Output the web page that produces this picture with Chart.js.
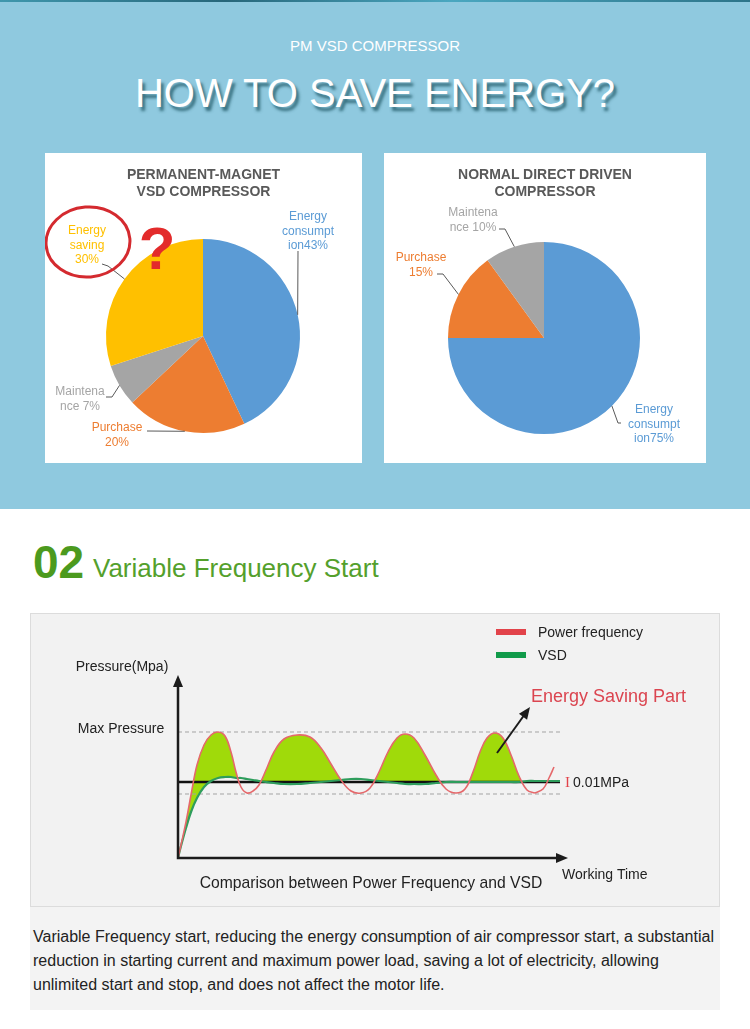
<!DOCTYPE html>
<html>
<head>
<meta charset="utf-8">
<title>PM VSD Compressor</title>
<script src="https://cdn.jsdelivr.net/npm/chart.js@4.4.1/dist/chart.umd.min.js"></script>
<style>
  html, body { margin: 0; padding: 0; }
  body { width: 750px; height: 1029px; position: relative; overflow: hidden; background: #fff;
         font-family: "Liberation Sans", Arial, sans-serif; }
  .band { position: absolute; left: 0; top: 0; width: 750px; height: 509px; background: #8fc9df; }
  .stripe { position: absolute; left: 0; top: 0; width: 750px; height: 2px;
            background: linear-gradient(90deg, #3f97ad, #27667a 30%, #4aa7c0 60%, #2d7489); }
  .kicker { position: absolute; left: 0; top: 38px; width: 750px; text-align: center;
            color: #fff; font-size: 15px; line-height: 15px; }
  .headline { position: absolute; left: 0; top: 73px; width: 750px; text-align: center;
              color: #fff; font-size: 40px; line-height: 40px; text-shadow: 3px 4px 3px rgba(40, 96, 110, 0.85); }
  .card { position: absolute; top: 153px; height: 310px; background: #fff; }
  .card h3 { position: absolute; left: 0; right: 0; top: 13px; margin: 0; text-align: center;
             font-size: 14px; line-height: 17px; font-weight: bold; color: #595959; z-index: 2; }
  .card .wrap { position: absolute; left: 0; top: 0; width: 100%; height: 100%; }
  .num { position: absolute; left: 33px; top: 539px; font-size: 46px; line-height: 46px;
         font-weight: bold; color: #4c9a1e; }
  .sub { position: absolute; left: 93px; top: 555px; font-size: 26px; line-height: 26px; color: #54a02c; }
  .chartbox { position: absolute; left: 30px; top: 613px; width: 690px; height: 294px;
              background: #f2f2f2; box-shadow: inset 0 0 0 1px #dcdcdc; }
  .chartbox .wrap { position: absolute; left: 0; top: 0; width: 690px; height: 294px; }
  .note { position: absolute; left: 30px; top: 907px; width: 690px; height: 103px; background: #f3f3f3; }
  .note p { margin: 0; padding: 18px 0 0 3px; font-size: 16px; line-height: 24px; color: #222; white-space: nowrap; }
</style>
</head>
<body>
<div class="band"></div>
<div class="stripe"></div>
<div class="kicker">PM VSD COMPRESSOR</div>
<div class="headline">HOW TO SAVE ENERGY?</div>

<div class="card" style="left:45px;width:317px;">
  <h3>PERMANENT-MAGNET<br>VSD COMPRESSOR</h3>
  <div class="wrap"><canvas id="pmPie"></canvas></div>
</div>
<div class="card" style="left:384px;width:322px;">
  <h3>NORMAL DIRECT DRIVEN<br>COMPRESSOR</h3>
  <div class="wrap"><canvas id="ddPie"></canvas></div>
</div>

<div class="num">02</div>
<div class="sub">Variable Frequency Start</div>

<div class="chartbox"><div class="wrap"><canvas id="startChart"></canvas></div></div>

<div class="note"><p>Variable Frequency start, reducing the energy consumption of air compressor start, a substantial<br>reduction in starting current and maximum power load, saving a lot of electricity, allowing<br>unlimited start and stop, and does not affect the motor life.</p></div>

<script>
// --- pie data ---
const pmLabels = ['Energy consumption', 'Purchase', 'Maintenance', 'Energy saving'];
const pmShares = [43, 20, 7, 30];
const ddLabels = ['Energy consumption', 'Purchase', 'Maintenance'];
const ddShares = [75, 15, 10];

// --- start curve data (time units along x, pressure units along y) ---
const times = [0, 3, 8, 13, 19, 26, 33, 40, 47, 53, 58, 63, 69, 75, 81, 88, 96, 106, 119, 132,
  143, 153, 163, 173, 183, 192, 201, 210, 219, 227, 236, 247, 258, 268, 278, 287, 295, 302, 309,
  317, 325, 333, 341, 349, 357, 365, 371, 376, 382];
const powerFreq = [0, 13, 36, 63, 93, 113, 123, 126, 122, 106, 86, 71, 65, 67, 73, 88, 106, 119, 123, 121,
  110, 94, 78, 67, 65, 70, 86, 106, 120, 124, 120, 103, 83, 69, 65, 69, 86, 106, 120,
  125, 120, 103, 82, 68, 65, 69, 80, 91];
const vsd = [0, 12, 30, 46, 60, 71, 77, 80, 81, 81, 80, 80, 79, 78, 77, 76, 75, 74, 74, 75,
  76, 77, 78, 79, 79, 78, 77, 76, 75, 74, 74, 74, 75, 76, 76, 76, 76, 76, 76,
  76, 76, 76, 76, 77, 77, 77, 77, 77, 77];
const tailStart = 44; // last trough: the red curve is not filled after it
const maxPressure = 126;
const setPressure = 76;
const lowPressure = 64;
const refSpan = [0, 382];

const blue = '#5b9bd5', orange = '#ed7d31', grey = '#a5a5a5', yellow = '#ffc000';
const font = '"Liberation Sans", Arial, sans-serif';

// labels with leader lines; the last leader point is the slice edge
const pieNotes = {
  id: 'pieNotes',
  afterDatasetsDraw(chart, args, opts) {
    const ctx = chart.ctx;
    const meta = chart.getDatasetMeta(0);
    ctx.save();
    ctx.font = '12px ' + font;
    ctx.textAlign = 'center';
    ctx.textBaseline = 'middle';
    (opts.notes || []).forEach((n) => {
      const arc = meta.data[n.index].getProps(['x', 'y', 'startAngle', 'endAngle', 'outerRadius'], true);
      const mid = (arc.startAngle + arc.endAngle) / 2;
      const ex = arc.x + Math.cos(mid) * arc.outerRadius;
      const ey = arc.y + Math.sin(mid) * arc.outerRadius;
      ctx.strokeStyle = '#595959';
      ctx.lineWidth = 1;
      ctx.beginPath();
      n.path.forEach((p, i) => (i ? ctx.lineTo(p[0], p[1]) : ctx.moveTo(p[0], p[1])));
      ctx.lineTo(ex, ey);
      ctx.stroke();
      ctx.fillStyle = chart.data.datasets[0].backgroundColor[n.index];
      n.lines.forEach((t, i) => ctx.fillText(t, n.x, n.y + i * 14.5));
    });
    if (opts.mark) {
      const m = opts.mark;
      ctx.strokeStyle = '#d42a2f';
      ctx.lineWidth = 3;
      ctx.beginPath();
      ctx.ellipse(m.cx, m.cy, m.rx, m.ry, -0.08, 0, Math.PI * 2);
      ctx.stroke();
      ctx.fillStyle = '#e32b2b';
      ctx.font = 'bold 60px ' + font;
      ctx.textBaseline = 'alphabetic';
      ctx.fillText('?', m.qx, m.qy);
    }
    ctx.restore();
  },
};

function pie(el, labels, values, colors, padding, notes, mark) {
  return new Chart(el, {
    type: 'pie',
    data: { labels, datasets: [{ data: values, backgroundColor: colors, borderWidth: 0 }] },
    options: {
      responsive: true,
      maintainAspectRatio: false,
      animation: false,
      events: [],
      layout: { padding },
      plugins: { legend: { display: false }, tooltip: { enabled: false }, pieNotes: { notes, mark } },
    },
    plugins: [pieNotes],
  });
}

pie(document.getElementById('pmPie'), pmLabels, pmShares, [blue, orange, grey, yellow],
  { left: 61, top: 86, right: 62, bottom: 30 },
  [
    { index: 0, lines: ['Energy', 'consumpt', 'ion43%'], x: 263, y: 64, path: [[253, 98]] },
    { index: 3, lines: ['Energy', 'saving', '30%'], x: 42, y: 78, path: [[57, 111], [63, 113]] },
    { index: 2, lines: ['Maintena', 'nce 7%'], x: 35, y: 239, path: [[61, 244], [67, 244]] },
    { index: 1, lines: ['Purchase', '20%'], x: 72, y: 275, path: [[102, 278]] },
  ],
  { cx: 43, cy: 89, rx: 42, ry: 35, qx: 112, qy: 116 });

pie(document.getElementById('ddPie'), ddLabels, ddShares, [blue, orange, grey],
  { left: 64, top: 89, right: 66, bottom: 29 },
  [
    { index: 2, lines: ['Maintena', 'nce 10%'], x: 89, y: 60, path: [[115, 76], [121, 76]] },
    { index: 1, lines: ['Purchase', '15%'], x: 37, y: 105, path: [[53, 121], [59, 121]] },
    { index: 0, lines: ['Energy', 'consumpt', 'ion75%'], x: 270, y: 257, path: [[237, 270], [234, 270]] },
  ]);

// --- start comparison chart ---
const legendItems = [
  { label: 'Power frequency', color: '#e2434a' },
  { label: 'VSD', color: '#119b4a' },
];

const startDecor = {
  id: 'startDecor',
  afterDraw(chart) {
    const { ctx, chartArea: a, scales: { x, y } } = chart;
    ctx.save();
    // axes with arrows
    ctx.strokeStyle = '#1c1c1c';
    ctx.fillStyle = '#1c1c1c';
    ctx.lineWidth = 2.5;
    ctx.beginPath();
    ctx.moveTo(a.left, a.top + 8);
    ctx.lineTo(a.left, a.bottom);
    ctx.lineTo(a.right - 8, a.bottom);
    ctx.stroke();
    ctx.beginPath();
    ctx.moveTo(a.left, a.top);
    ctx.lineTo(a.left - 5, a.top + 12);
    ctx.lineTo(a.left + 5, a.top + 12);
    ctx.closePath();
    ctx.fill();
    ctx.beginPath();
    ctx.moveTo(a.right, a.bottom);
    ctx.lineTo(a.right - 12, a.bottom - 5);
    ctx.lineTo(a.right - 12, a.bottom + 5);
    ctx.closePath();
    ctx.fill();

    // pointer to the saving area
    const x0 = x.getPixelForValue(319), y0 = y.getPixelForValue(105);
    const x1 = x.getPixelForValue(352), y1 = y.getPixelForValue(151);
    const ang = Math.atan2(y1 - y0, x1 - x0);
    ctx.lineWidth = 2;
    ctx.beginPath();
    ctx.moveTo(x0, y0);
    ctx.lineTo(x1 - Math.cos(ang) * 8, y1 - Math.sin(ang) * 8);
    ctx.stroke();
    ctx.beginPath();
    ctx.moveTo(x1, y1);
    ctx.lineTo(x1 - Math.cos(ang) * 12 + Math.sin(ang) * 5, y1 - Math.sin(ang) * 12 - Math.cos(ang) * 5);
    ctx.lineTo(x1 - Math.cos(ang) * 12 - Math.sin(ang) * 5, y1 - Math.sin(ang) * 12 + Math.cos(ang) * 5);
    ctx.closePath();
    ctx.fill();

    // texts
    ctx.textBaseline = 'middle';
    ctx.fillStyle = '#222';
    ctx.font = '14px ' + font;
    ctx.textAlign = 'center';
    ctx.fillText('Pressure(Mpa)', 92, a.top - 8);
    ctx.fillText('Max Pressure', 91, y.getPixelForValue(maxPressure) - 3);
    ctx.textAlign = 'left';
    ctx.fillText('0.01MPa', x.getPixelForValue(395), y.getPixelForValue(setPressure) + 1);
    ctx.fillText('Working Time', a.right - 6, a.bottom + 17);
    ctx.font = '15.7px ' + font;
    ctx.textAlign = 'center';
    ctx.fillText('Comparison between Power Frequency and VSD', 341, a.bottom + 26);
    ctx.textAlign = 'left';
    ctx.font = '18px ' + font;
    ctx.fillStyle = '#db4550';
    ctx.fillText('Energy Saving Part', 501, 84);
    ctx.font = '15px "Liberation Serif", serif';
    ctx.fillStyle = '#e2434a';
    ctx.fillText('I', x.getPixelForValue(387), y.getPixelForValue(setPressure) + 1);

    // legend
    ctx.font = '14px ' + font;
    legendItems.forEach((it, i) => {
      const ly = 19 + i * 23;
      ctx.fillStyle = it.color;
      ctx.fillRect(466, ly - 3, 30, 6);
      ctx.fillStyle = '#222';
      ctx.fillText(it.label, 508, ly + 1);
    });
    ctx.restore();
  },
};

const pts = (vals, from = 0) => vals.map((v, i) => ({ x: times[i + from], y: v }));
const ref = (v) => refSpan.map((t) => ({ x: t, y: v }));

new Chart(document.getElementById('startChart'), {
  type: 'line',
  data: {
    datasets: [
      {
        label: 'Power frequency',
        data: pts(powerFreq.slice(0, tailStart + 1)),
        borderColor: '#e5686b',
        borderWidth: 1.6,
        pointRadius: 0,
        tension: 0.4,
        fill: { target: 2, above: '#a0da0a', below: 'rgba(0,0,0,0)' },
        clip: false,
      },
      {
        label: 'Power frequency tail',
        data: pts(powerFreq.slice(tailStart), tailStart),
        borderColor: '#e5686b',
        borderWidth: 1.6,
        pointRadius: 0,
        tension: 0.4,
        fill: false,
        clip: false,
      },
      {
        label: 'VSD',
        data: pts(vsd),
        borderColor: '#2e9d5c',
        borderWidth: 2.2,
        pointRadius: 0,
        tension: 0.4,
        fill: false,
        clip: false,
      },
      { label: 'set', data: ref(setPressure), borderColor: '#111', borderWidth: 2.5, pointRadius: 0, fill: false },
      { label: 'max', data: ref(maxPressure), borderColor: '#a3a3a3', borderWidth: 1, borderDash: [4, 3], pointRadius: 0, fill: false },
      { label: 'low', data: ref(lowPressure), borderColor: '#a3a3a3', borderWidth: 1, borderDash: [4, 3], pointRadius: 0, fill: false },
    ],
  },
  options: {
    responsive: true,
    maintainAspectRatio: false,
    animation: false,
    events: [],
    layout: { padding: { left: 148, top: 62, right: 152, bottom: 49 } },
    scales: {
      x: { type: 'linear', display: false, min: 0, max: 390 },
      y: { display: false, min: 0, max: 183 },
    },
    plugins: {
      legend: { display: false },
      tooltip: { enabled: false },
      filler: { drawTime: 'beforeDatasetsDraw' },
    },
  },
  plugins: [startDecor],
});
</script>
</body>
</html>
